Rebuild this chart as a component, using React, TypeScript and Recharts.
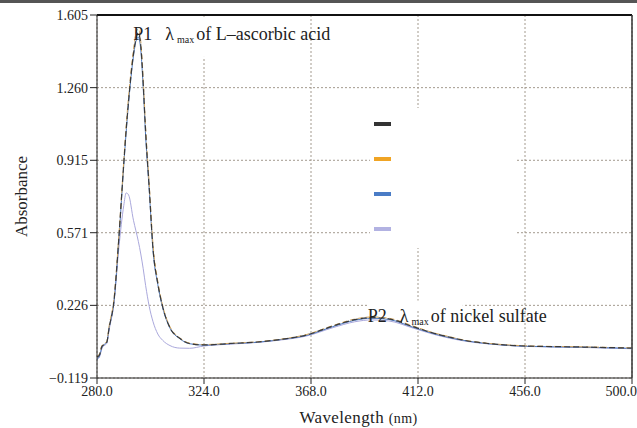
import React from 'react';
import { LineChart, Line, XAxis, YAxis, CartesianGrid, ReferenceLine, ReferenceDot } from 'recharts';

// Wavelength (nm) sample points
const wavelengths = [280, 281, 282, 283, 284, 285, 287, 289, 291, 292, 293, 295, 296, 297, 298, 299, 300, 301.5, 303, 305, 307, 310, 314, 318, 324, 335, 346, 356, 366, 377, 386, 393, 400, 410, 418, 425, 432, 440, 456, 480, 500];

const blackSeries = [-0.02, -0.01, 0.03, 0.04, 0.05, 0.12, 0.25, 0.55, 0.9, 1.06, 1.2, 1.42, 1.49, 1.52, 1.46, 1.28, 1.05, 0.78, 0.5, 0.33, 0.22, 0.12, 0.07, 0.045, 0.038, 0.045, 0.052, 0.065, 0.085, 0.128, 0.158, 0.168, 0.162, 0.125, 0.095, 0.075, 0.058, 0.046, 0.033, 0.028, 0.023];
const orangeSeries = [-0.015, -0.005, 0.035, 0.045, 0.055, 0.13, 0.26, 0.56, 0.91, 1.08, 1.22, 1.44, 1.52, 1.54, 1.48, 1.3, 1.07, 0.8, 0.52, 0.34, 0.225, 0.125, 0.072, 0.047, 0.04, 0.046, 0.053, 0.066, 0.087, 0.13, 0.161, 0.171, 0.165, 0.128, 0.097, 0.077, 0.059, 0.047, 0.034, 0.029, 0.024];
const blueSeries = [-0.03, -0.015, 0.025, 0.04, 0.05, 0.12, 0.245, 0.54, 0.89, 1.05, 1.19, 1.41, 1.48, 1.5, 1.44, 1.26, 1.03, 0.77, 0.49, 0.325, 0.215, 0.118, 0.068, 0.044, 0.037, 0.044, 0.051, 0.064, 0.083, 0.125, 0.155, 0.165, 0.159, 0.122, 0.093, 0.073, 0.057, 0.045, 0.032, 0.027, 0.022];
const lavenderSeries = [-0.03, -0.02, 0.02, 0.035, 0.045, 0.11, 0.24, 0.5, 0.7, 0.76, 0.75, 0.63, 0.58, 0.53, 0.47, 0.4, 0.32, 0.22, 0.15, 0.09, 0.06, 0.035, 0.023, 0.022, 0.033, 0.042, 0.05, 0.062, 0.08, 0.12, 0.148, 0.157, 0.152, 0.118, 0.09, 0.07, 0.055, 0.044, 0.031, 0.026, 0.02];

const xTicks = [280, 324, 368, 412, 456, 500];
const yTicks = [-0.119, 0.226, 0.571, 0.915, 1.26, 1.605];

const chartData = wavelengths.map((w, i) => ({
  wl: w,
  black: blackSeries[i],
  orange: orangeSeries[i],
  blue: blueSeries[i],
  lavender: lavenderSeries[i],
}));

// legend swatches only, the source figure shows no names
const legendColors = ['#333333', '#f0a424', '#4a7cc6', '#b2b2e2'];

const serif = '"Liberation Serif", "DejaVu Serif", serif';

// peak annotation; the white rect stands for the label frame that hides the grid behind it
const PeakLabel = ({ viewBox, tag, rest, dx, dy, mask }: any) => {
  const x = viewBox.x + dx;
  const y = viewBox.y + dy;
  return (
    <g>
      {mask && <rect x={viewBox.x + mask[0]} y={viewBox.y + mask[1]} width={mask[2]} height={mask[3]} fill="#fff" />}
      <text x={x} y={y} fontFamily={serif} fontSize={18} fill="#222">
        <tspan>{tag}</tspan>
        <tspan dx={13}>λ</tspan>
        <tspan dx={3} dy={3} fontSize={10}>max</tspan>
        <tspan dx={2} dy={-3}>{rest}</tspan>
      </text>
    </g>
  );
};

const XTitle = ({ viewBox }: any) => {
  const cx = viewBox.x + viewBox.width / 2 - 6;
  return (
    <text x={cx} y={viewBox.y + 45} textAnchor="middle" fontFamily={serif} fontSize={17} fill="#222" letterSpacing={0.4}>
      Wavelength <tspan fontSize={14}>(nm)</tspan>
    </text>
  );
};

const App: React.FC = () => {
  return (
    <div style={{ position: 'absolute', left: 0, top: 0, width: 637, height: 428, background: '#fff' }}>
      <div style={{ position: 'absolute', left: 0, top: 0, width: 637, height: 3, background: '#555' }} />
      <LineChart
        width={637}
        height={428}
        data={chartData}
        margin={{ top: 15, right: 5, left: 0, bottom: 0 }}
      >
        <CartesianGrid stroke="#a39a8e" strokeDasharray="2 2" />
        <XAxis
          dataKey="wl"
          type="number"
          domain={[280, 500]}
          ticks={xTicks}
          tickFormatter={(v: number) => v.toFixed(1)}
          height={50}
          stroke="#222"
          tick={{ fill: '#222', fontFamily: serif, fontSize: 14 }}
          tickSize={6}
          label={<XTitle />}
        />
        <YAxis
          type="number"
          domain={[-0.119, 1.605]}
          ticks={yTicks}
          tickFormatter={(v: number) => v.toFixed(3).replace('-', '\u2212')}
          width={97}
          stroke="#222"
          tick={{ fill: '#222', fontFamily: serif, fontSize: 14 }}
          tickSize={7}
          interval={0}
          label={{ value: 'Absorbance', angle: -90, position: 'insideLeft', offset: 21, fill: '#222', fontFamily: serif, fontSize: 17, style: { textAnchor: 'middle' } }}
        />
        <ReferenceLine y={1.605} stroke="#111" strokeWidth={2} />
        <ReferenceLine x={500} stroke="#333" strokeWidth={1.5} />
        <Line type="monotone" dataKey="lavender" stroke="#aaa8dc" strokeWidth={1} dot={false} isAnimationActive={false} />
        <Line type="monotone" dataKey="blue" stroke="#4a78c0" strokeWidth={1} dot={false} isAnimationActive={false} />
        <Line type="monotone" dataKey="orange" stroke="#cfa25a" strokeWidth={1} strokeDasharray="5 3" dot={false} isAnimationActive={false} />
        <Line type="monotone" dataKey="black" stroke="#3a3a3a" strokeWidth={1.2} strokeDasharray="6 3" dot={false} isAnimationActive={false} />
        <ReferenceDot
          x={297}
          y={1.52}
          r={0}
          fill="none"
          stroke="none"
          label={<PeakLabel tag="P1" rest="of L–ascorbic acid" dx={-5} dy={7} mask={[62, -16, 8, 40]} />}
        />
        <ReferenceDot
          x={393}
          y={0.168}
          r={0}
          fill="none"
          stroke="none"
          label={<PeakLabel tag="P2" rest="of nickel sulfate" dx={-4} dy={4} mask={[-4, -17, 95, 9]} />}
        />
      </LineChart>
      <div style={{ position: 'absolute', left: 370, top: 108, width: 147, height: 140, background: '#fff', paddingTop: 14, paddingLeft: 4, boxSizing: 'border-box' }}>
        {legendColors.map((c) => (
          <div key={c} style={{ width: 17, height: 4, background: c, marginBottom: 31 }} />
        ))}
      </div>
    </div>
  );
};

export default App;
